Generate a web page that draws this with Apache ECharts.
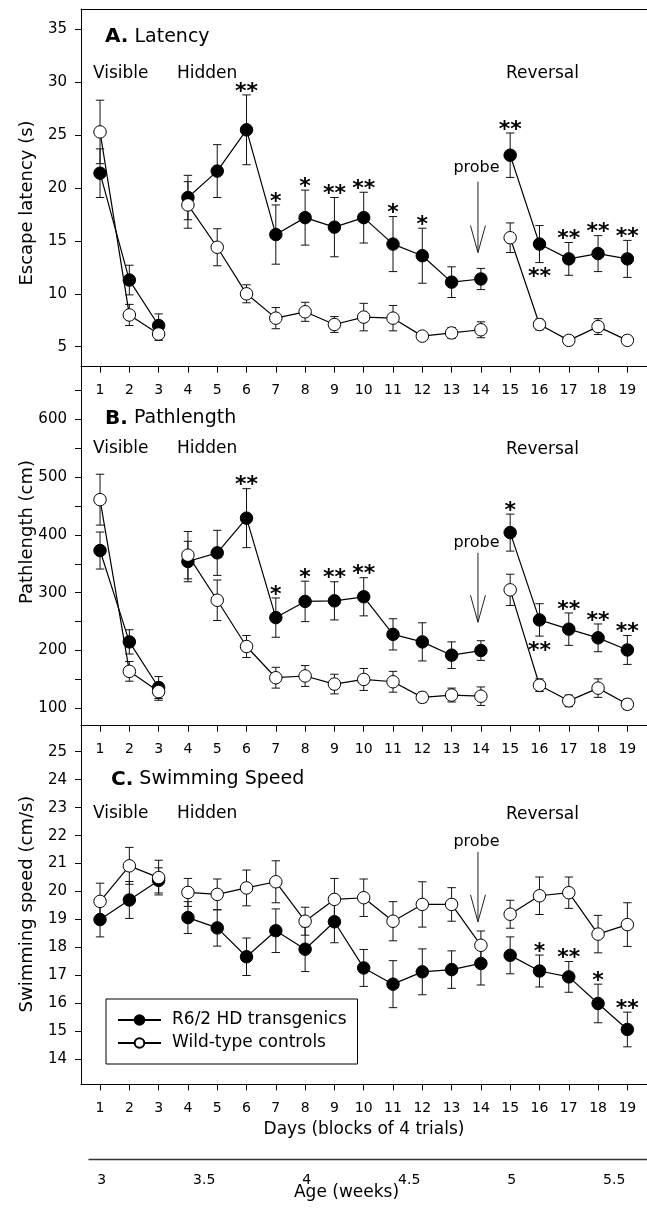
<!DOCTYPE html>
<html>
<head>
<meta charset="utf-8">
<script src="https://cdn.jsdelivr.net/npm/echarts@6/dist/echarts.min.js"></script>
<style>
html,body{margin:0;padding:0;background:#fff;}
#chart{width:647px;height:1212px;}
</style>
</head>
<body>
<div id="chart"></div>
<script>
// ---------- DATA ----------
const days = [1,2,3,4,5,6,7,8,9,10,11,12,13,14,15,16,17,18,19];
const segmentEnds = [3, 14];           // Visible | Hidden | Reversal
const ageTicks = [3, 3.5, 4, 4.5, 5, 5.5];

// A. Latency (s)
const latTg    = [21.4,11.3,7.0,19.1,21.6,25.5,15.6,17.2,16.3,17.2,14.7,13.6,11.1,11.4,23.1,14.7,13.3,13.8,13.3];
const latTgErr = [2.3,1.4,1.1,2.1,2.5,3.3,2.8,2.6,2.8,2.4,2.6,2.6,1.45,1.0,2.1,1.75,1.55,1.7,1.75];
const latWt    = [25.3,8.0,6.2,18.4,14.4,10.0,7.7,8.3,7.1,7.8,7.7,6.0,6.3,6.6,15.3,7.1,5.6,6.9,5.6];
const latWtErr = [3.0,1.0,0.6,2.2,1.75,0.85,1.0,0.9,0.75,1.3,1.2,0.4,0.5,0.75,1.4,0.5,0.4,0.75,0.4];
const latStarDays = [6,7,8,9,10,11,12,15,16,17,18,19];
const latStarText = ['**','*','*','**','**','*','*','**','**','**','**','**'];
const latStarSide = ['up','up','up','up','up','up','up','up','down','up','up','up'];

// B. Pathlength (cm)
const pathTg    = [373,215,136,354,369,429,257,285,286,293,228,215,192,200,404,253,237,222,201];
const pathTgErr = [32,21,19,35,39,51,34,35,33,33,27,33,23,17,32,28,28,24,25];
const pathWt    = [461,164,129,365,287,207,153,156,142,150,146,119,123,121,305,140,113,135,107];
const pathWtErr = [44,17,15,41,35,19,18,18,17,19,18,9,12,16,27,11,10,16,9];
const pathStarDays = [6,7,8,9,10,15,16,17,18,19];
const pathStarText = ['**','*','*','**','**','*','**','**','**','**'];
const pathStarSide = ['up','up','up','up','up','up','down','up','up','up'];

// C. Swimming speed (cm/s)
const speedTg    = [19.0,19.7,20.4,19.07,18.7,17.67,18.6,17.94,18.92,17.27,16.69,17.13,17.21,17.43,17.72,17.16,16.95,16.0,15.07];
const speedTgErr = [0.62,0.66,0.45,0.57,0.65,0.67,0.78,0.8,0.75,0.66,0.84,0.82,0.67,0.77,0.66,0.57,0.55,0.69,0.62];
const speedWt    = [19.65,20.92,20.5,19.97,19.9,20.13,20.35,18.94,19.72,19.78,18.94,19.54,19.54,18.08,19.19,19.85,19.96,18.48,18.82];
const speedWtErr = [0.65,0.66,0.62,0.5,0.55,0.64,0.75,0.5,0.75,0.67,0.7,0.81,0.6,0.51,0.5,0.67,0.56,0.67,0.78];
const speedStarDays = [16,17,18,19];
const speedStarText = ['*','**','*','**'];
const speedStarSide = ['up','up','up','up'];

const seriesNames = ['R6/2 HD transgenics', 'Wild-type controls'];
const probeDay = 13.9;

// ---------- LAYOUT / STYLE ----------
const FONT = "'DejaVu Sans', sans-serif";
const X0 = 81, XR = 647;
const panelTops = [9, 366.7, 725.7, 1084.3];
const xMin = 0.35, xMax = 19.67;
const yRanges = [[3.11, 36.92], [70, 691], [13.11, 25.93]];
const yLabelVals = [[5,10,15,20,25,30,35],[100,200,300,400,500,600],[14,15,16,17,18,19,20,21,22,23,24,25]];
const yTickVals  = [[5,10,15,20,25,30,35],[100,150,200,250,300,350,400,450,500,550,600,650],[14,15,16,17,18,19,20,21,22,23,24,25]];
// probe annotation anchor (text, arrow top, arrow tip) in data units per panel
const probeAnchors = [[21.9, 20.6, 13.9], [386, 369, 249], [21.78, 21.42, 18.92]];

function lineData(vals){
  const out = [];
  days.forEach((d,i)=>{ out.push([d, vals[i]]); if (segmentEnds.indexOf(d) >= 0) out.push([d+0.5, '-']); });
  return out;
}
function errData(vals, err){ return days.map((d,i)=>[d, vals[i]-err[i], vals[i]+err[i]]); }

function renderErr(params, api){
  const x = api.value(0), lo = api.value(1), hi = api.value(2);
  const p1 = api.coord([x, lo]), p2 = api.coord([x, hi]);
  const w = 4.2, st = {stroke:'#111', lineWidth:1};
  return {type:'group', children:[
    {type:'line', shape:{x1:p1[0],y1:p1[1],x2:p2[0],y2:p2[1]}, style:st},
    {type:'line', shape:{x1:p1[0]-w,y1:p1[1],x2:p1[0]+w,y2:p1[1]}, style:st},
    {type:'line', shape:{x1:p2[0]-w,y1:p2[1],x2:p2[0]+w,y2:p2[1]}, style:st}
  ]};
}

function starSeries(p, sDays, sText, sSide, vals, err){
  const data = sDays.map((d,k)=>{ const i = days.indexOf(d); return [d, sSide[k]==='up' ? vals[i]+err[i] : vals[i]-err[i]]; });
  return {
    type:'custom', xAxisIndex:p, yAxisIndex:p, z:6, silent:true, clip:false,
    data: data,
    renderItem: function(params, api){
      const k = params.dataIndex;
      const pt = api.coord([api.value(0), api.value(1)]);
      const dy = sSide[k]==='up' ? -3 : 15;
      return {type:'text', x:pt[0], y:pt[1]+dy, style:{text:sText[k], fill:'#000', font:'bold 22px ' + FONT, align:'center', verticalAlign:'middle'}};
    }
  };
}

function probeSeries(p){
  const a = probeAnchors[p];
  return {
    type:'custom', xAxisIndex:p, yAxisIndex:p, z:6, silent:true, clip:false,
    data:[[probeDay, a[0], a[1], a[2]]],
    encode:{x:0, y:[1,2,3]},
    renderItem: function(params, api){
      const x = api.value(0);
      const pt = api.coord([x, api.value(1)]), top = api.coord([x, api.value(2)]), tip = api.coord([x, api.value(3)]);
      const st = {stroke:'#222', lineWidth:1, fill:null};
      return {type:'group', children:[
        {type:'text', x:pt[0]-1.5, y:pt[1], style:{text:'probe', fill:'#000', font:'16px ' + FONT, align:'center', verticalAlign:'middle'}},
        {type:'line', shape:{x1:top[0],y1:top[1],x2:tip[0],y2:tip[1]}, style:st},
        {type:'polyline', shape:{points:[[tip[0]-7.5, tip[1]-27],[tip[0], tip[1]],[tip[0]+7.5, tip[1]-27]]}, style:st}
      ]};
    }
  };
}

const panels = [
  {tg:latTg, tgE:latTgErr, wt:latWt, wtE:latWtErr, sd:latStarDays, st:latStarText, ss:latStarSide},
  {tg:pathTg, tgE:pathTgErr, wt:pathWt, wtE:pathWtErr, sd:pathStarDays, st:pathStarText, ss:pathStarSide},
  {tg:speedTg, tgE:speedTgErr, wt:speedWt, wtE:speedWtErr, sd:speedStarDays, st:speedStarText, ss:speedStarSide}
];

const grids = [0,1,2].map(p=>({left:X0, top:panelTops[p], width:XR-X0, height:panelTops[p+1]-panelTops[p]}));
grids.push({left:89, top:1158, width:558, height:1});

const xAxes = [0,1,2].map(p=>({
  type:'value', gridIndex:p, min:xMin, max:xMax, position:'bottom',
  axisLine:{show:true, onZero:false, lineStyle:{color:'#000', width:1}},
  axisTick:{show:true, inside:false, length:6, customValues:days, lineStyle:{color:'#000'}},
  axisLabel:{show:true, customValues:days, margin:17, fontSize:14, color:'#000', fontFamily:FONT},
  splitLine:{show:false}
}));
xAxes[2].name = 'Days (blocks of 4 trials)';
xAxes[2].nameLocation = 'middle';
xAxes[2].nameGap = 37;
xAxes[2].nameTextStyle = {fontSize:17, color:'#000', fontFamily:FONT};
// top frame line of panel A
xAxes.push({type:'value', gridIndex:0, min:xMin, max:xMax, position:'top',
  axisLine:{show:true, onZero:false, lineStyle:{color:'#000', width:1}}, axisTick:{show:false}, axisLabel:{show:false}, splitLine:{show:false}});
// age axis
xAxes.push({type:'value', gridIndex:3, min:2.938, max:5.66, position:'bottom',
  axisLine:{show:true, onZero:false, lineStyle:{color:'#333', width:1.3}}, axisTick:{show:false},
  axisLabel:{show:true, customValues:ageTicks, margin:14, fontSize:14, color:'#000', fontFamily:FONT}, splitLine:{show:false}});

const yAxes = [0,1,2].map(p=>({
  type:'value', gridIndex:p, min:yRanges[p][0], max:yRanges[p][1],
  axisLine:{show:true, onZero:false, lineStyle:{color:'#000', width:1}},
  axisTick:{show:true, inside:false, length:6, customValues:yTickVals[p], lineStyle:{color:'#000'}},
  axisLabel:{show:true, customValues:yLabelVals[p], margin:14, fontSize:15, color:'#000', fontFamily:FONT},
  splitLine:{show:false}
}));
yAxes.push({type:'value', gridIndex:3, min:0, max:1, show:false});

const series = [];
panels.forEach((P,p)=>{
  series.push({type:'custom', xAxisIndex:p, yAxisIndex:p, z:1, silent:true, clip:false, data:errData(P.tg,P.tgE), encode:{x:0,y:[1,2]}, renderItem:renderErr});
  series.push({type:'custom', xAxisIndex:p, yAxisIndex:p, z:1, silent:true, clip:false, data:errData(P.wt,P.wtE), encode:{x:0,y:[1,2]}, renderItem:renderErr});
  series.push({name:seriesNames[0], type:'line', xAxisIndex:p, yAxisIndex:p, z:3, silent:true, connectNulls:false,
    data:lineData(P.tg), symbol:'circle', symbolSize:12.5, showSymbol:true,
    lineStyle:{color:'#000', width:1.2}, itemStyle:{color:'#000', borderColor:'#000', borderWidth:1}});
  series.push({name:seriesNames[1], type:'line', xAxisIndex:p, yAxisIndex:p, z:4, silent:true, connectNulls:false,
    data:lineData(P.wt), symbol:'circle', symbolSize:12.5, showSymbol:true,
    lineStyle:{color:'#000', width:1.2}, itemStyle:{color:'#fff', borderColor:'#000', borderWidth:1}});
  series.push(starSeries(p, P.sd, P.st, P.ss, P.tg, P.tgE));
  series.push(probeSeries(p));
});

function txt(x, y, text, size, extra){
  return Object.assign({type:'text', x:x, y:y, silent:true, z:10,
    style:{text:text, fill:'#000', font:size+'px '+FONT, align:'left', verticalAlign:'middle'}}, extra||{});
}
const titleRich = {b:{fontWeight:'bold', fontSize:20, fontFamily:FONT, fill:'#000'}, n:{fontSize:19, fontFamily:FONT, fill:'#000'}};
function title(x, y, letter, rest){
  return {type:'text', x:x, y:y, silent:true, z:10,
    style:{text:'{b|'+letter+'} {n|'+rest+'}', rich:titleRich, fill:'#000', font:'19px '+FONT, align:'left', verticalAlign:'middle'}};
}
function yName(y, text){
  return {type:'text', x:27, y:y, rotation:Math.PI/2, silent:true, z:10,
    style:{text:text, fill:'#000', font:'18px '+FONT, align:'center', verticalAlign:'middle'}};
}

const graphic = [
  title(105, 36.7, 'A.', 'Latency'),
  title(105, 418.5, 'B.', 'Pathlength'),
  title(111, 779.5, 'C.', 'Swimming Speed'),
  txt(93, 74, 'Visible', 17), txt(177, 74, 'Hidden', 17), txt(506, 74, 'Reversal', 17),
  txt(93, 448.5, 'Visible', 17), txt(177, 448.5, 'Hidden', 17), txt(506, 449.5, 'Reversal', 17),
  txt(93, 814, 'Visible', 17), txt(177, 814, 'Hidden', 17), txt(506, 815, 'Reversal', 17),
  yName(203, 'Escape latency (s)'),
  yName(532, 'Pathlength (cm)'),
  yName(904, 'Swimming speed (cm/s)'),
  Object.assign(txt(346.5, 1193, 'Age (weeks)', 17), {}),
];
graphic[graphic.length-1].style.align = 'center';

const chart = echarts.init(document.getElementById('chart'), null, {renderer:'canvas'});
chart.setOption({
  animation:false,
  backgroundColor:'#fff',
  textStyle:{fontFamily:FONT, color:'#000'},
  grid:grids,
  xAxis:xAxes,
  yAxis:yAxes,
  legend:{
    left:106, top:999, orient:'vertical', selectedMode:false,
    data:seriesNames, itemWidth:43, itemHeight:12, itemGap:3,
    padding:[11,11,11,11], borderColor:'#000', borderWidth:1, backgroundColor:'#fff',
    textStyle:{fontSize:17, color:'#000', fontFamily:FONT, lineHeight:20, padding:[0,0,0,6]}
  },
  series:series,
  graphic:graphic
});
</script>
</body>
</html>
